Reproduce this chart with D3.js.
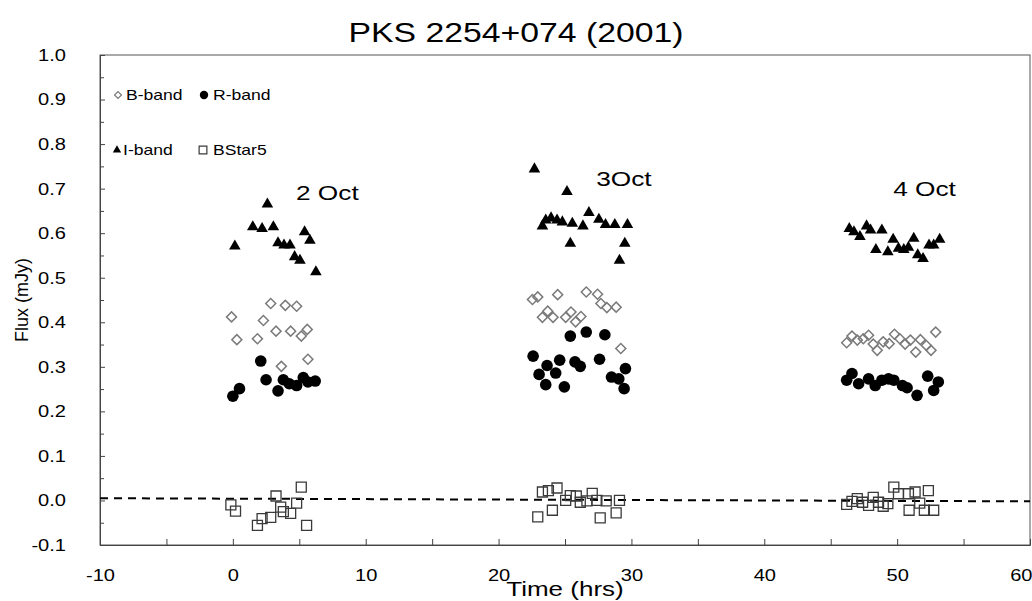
<!DOCTYPE html>
<html>
<head>
<meta charset="utf-8">
<script src="https://cdn.jsdelivr.net/npm/d3@7/dist/d3.min.js"></script>
<style>
  body { margin: 0; background: #fff; }
  text { font-family: "Liberation Sans", Arial, sans-serif; fill: #000; }
</style>
</head>
<body>
<svg id="chart" width="1032" height="601"></svg>
<script>
// B-band (open diamonds)
var bTime = [-0.1,0.3,1.85,2.3,2.85,3.25,3.65,3.95,4.35,4.8,5.15,5.6,5.65,
  22.55,22.95,23.3,23.7,24.1,24.45,25.05,25.45,25.8,26.2,26.6,27.45,27.7,28.15,28.85,29.2,
  46.2,46.6,47.0,47.45,47.85,48.2,48.5,48.95,49.4,49.8,50.2,50.6,51.0,51.4,51.75,52.2,52.55,52.9]
var bFlux = [0.412,0.361,0.363,0.404,0.442,0.380,0.301,0.438,0.380,0.436,0.369,0.384,0.317,
  0.451,0.457,0.411,0.425,0.411,0.462,0.411,0.423,0.401,0.413,0.468,0.463,0.442,0.433,0.434,0.341,
  0.354,0.369,0.360,0.363,0.371,0.351,0.337,0.356,0.352,0.373,0.363,0.351,0.360,0.333,0.361,0.348,0.337,0.378]

// R-band (filled circles)
var rTime = [0.0,0.5,2.1,2.5,3.4,3.8,4.25,4.8,5.3,5.65,6.2,
  22.6,23.05,23.55,23.65,24.3,24.6,24.95,25.4,25.75,26.15,26.6,27.6,28.0,28.5,29.05,29.45,29.55,
  46.2,46.6,47.1,47.85,48.35,48.85,49.35,49.75,50.4,50.75,51.5,52.3,52.75,53.1]
var rFlux = [0.234,0.251,0.313,0.271,0.246,0.271,0.262,0.258,0.276,0.266,0.268,
  0.324,0.283,0.260,0.303,0.286,0.315,0.255,0.369,0.311,0.301,0.378,0.317,0.372,0.277,0.273,0.251,0.296,
  0.270,0.285,0.262,0.273,0.258,0.270,0.273,0.270,0.258,0.253,0.236,0.279,0.247,0.266]

// I-band (filled triangles)
var iTime = [0.15,1.5,2.2,2.6,3.05,3.4,3.85,4.3,4.65,5.05,5.4,5.8,6.25,
  22.7,23.3,23.55,23.95,24.4,24.8,25.15,25.4,25.55,26.35,26.8,27.55,28.05,28.75,29.1,29.5,29.7,
  46.4,46.75,47.2,47.7,48.0,48.4,48.85,49.3,49.7,50.1,50.5,50.85,51.25,51.55,51.95,52.4,52.75,53.2]
var iFlux = [0.571,0.614,0.610,0.665,0.614,0.578,0.573,0.573,0.547,0.539,0.603,0.584,0.513,
  0.744,0.616,0.629,0.634,0.629,0.625,0.693,0.577,0.622,0.616,0.646,0.631,0.619,0.619,0.539,0.577,0.619,
  0.610,0.603,0.592,0.616,0.607,0.563,0.607,0.558,0.586,0.566,0.563,0.568,0.588,0.551,0.543,0.573,0.573,0.586]

// BStar5 (open squares)
var sTime = [-0.15,0.2,1.85,2.2,2.85,3.25,3.6,3.8,4.35,4.8,5.15,5.55,
  22.95,23.3,23.75,24.05,24.4,25.05,25.4,25.85,26.15,26.65,27.05,27.4,27.65,28.1,28.85,29.1,
  46.2,46.6,47.0,47.4,47.85,48.2,48.6,48.95,49.3,49.75,50.1,50.85,50.9,51.35,51.7,52.05,52.35,52.75]
var sFlux = [-0.010,-0.024,-0.056,-0.041,-0.038,0.010,-0.015,-0.025,-0.029,-0.006,0.030,-0.056,
  -0.037,0.019,0.022,-0.022,0.028,0.000,0.011,0.010,-0.004,-0.001,0.016,0.000,-0.039,-0.001,-0.028,0.000,
  -0.009,-0.002,0.004,-0.004,-0.011,0.007,-0.004,-0.013,-0.007,0.030,0.015,0.015,-0.022,0.019,-0.006,-0.022,0.022,-0.022]

// dashed trend line ends
var trendTime = [-10, 60]
var trendFlux = [0.005, -0.002]

var dayLabels = ["2 Oct", "3Oct", "4 Oct"]
var dayTime = [4.75, 27.35, 49.7]
var dayFlux = [0.675, 0.705, 0.683]

var xTicks = d3.range(-10, 61, 5)
var yTicks = d3.range(-0.1, 1.001, 0.1)
var yMinor = d3.range(-0.05, 1.0, 0.1)

var svg = d3.select("#chart")
var x = d3.scaleLinear().domain([-10, 60]).range([100, 1030])
var y = d3.scaleLinear().domain([-0.1, 1.0]).range([545, 55])

// text looks a bit wider than plain Arial in the original
function stretch(sel, k) {
  sel.each(function() {
    var w = this.getComputedTextLength()
    d3.select(this).attr("textLength", w * k).attr("lengthAdjust", "spacingAndGlyphs")
  })
}

// frame
svg.append("rect")
  .attr("x", 100).attr("y", 55)
  .attr("width", 930).attr("height", 490)
  .attr("fill", "none").attr("stroke", "#555").attr("stroke-width", 1)

// y axis
var yAx = svg.append("g").attr("transform", "translate(100,0)")
  .call(d3.axisLeft(y).tickValues(yTicks).tickSize(-5).tickPadding(34)
    .tickFormat(function(d) { return d.toFixed(1) }))
yAx.select(".domain").attr("stroke", "#444")
yAx.selectAll("line").attr("stroke", "#444")
yAx.selectAll("text").style("font-size", "17px").call(stretch, 1.18)
svg.append("g").attr("transform", "translate(100,0)")
  .call(d3.axisLeft(y).tickValues(yMinor).tickSize(-4).tickFormat(""))
  .call(function(g) { g.select(".domain").remove(); g.selectAll("line").attr("stroke", "#444") })

// x axis
var xAx = svg.append("g").attr("transform", "translate(0,545)")
  .call(d3.axisBottom(x).tickValues(xTicks).tickSize(-6).tickPadding(24)
    .tickFormat(function(d) { return d % 10 === 0 ? String(d) : "" }))
xAx.select(".domain").attr("stroke", "#444")
xAx.selectAll("line").attr("stroke", "#444")
xAx.selectAll("text").style("font-size", "17px").call(stretch, 1.18)
// last label kept inside the page
xAx.selectAll(".tick text").filter(function(d) { return d === 60 })
  .attr("text-anchor", "end").attr("x", 2)

// dashed line
svg.append("line")
  .attr("x1", x(trendTime[0])).attr("y1", y(trendFlux[0]))
  .attr("x2", x(trendTime[1])).attr("y2", y(trendFlux[1]))
  .attr("stroke", "#000").attr("stroke-width", 2).attr("stroke-dasharray", "8,6")

function pts(t, f) { return t.map(function(d, i) { return [d, f[i]] }) }

// B-band
svg.append("g").selectAll("path").data(pts(bTime, bFlux)).join("path")
  .attr("d", d3.symbol(d3.symbolSquare, 50))
  .attr("transform", function(d) { return "translate(" + x(d[0]) + "," + y(d[1]) + ") rotate(45)" })
  .attr("fill", "none").attr("stroke", "#7a7a7a").attr("stroke-width", 1.5)

// R-band
svg.append("g").selectAll("circle").data(pts(rTime, rFlux)).join("circle")
  .attr("cx", function(d) { return x(d[0]) }).attr("cy", function(d) { return y(d[1]) })
  .attr("r", 5.8).attr("fill", "#000")

// I-band
svg.append("g").selectAll("path").data(pts(iTime, iFlux)).join("path")
  .attr("d", d3.symbol(d3.symbolTriangle, 58))
  .attr("transform", function(d) { return "translate(" + x(d[0]) + "," + y(d[1]) + ")" })
  .attr("fill", "#000")

// BStar5
svg.append("g").selectAll("path").data(pts(sTime, sFlux)).join("path")
  .attr("d", d3.symbol(d3.symbolSquare, 100))
  .attr("transform", function(d) { return "translate(" + x(d[0]) + "," + y(d[1]) + ")" })
  .attr("fill", "none").attr("stroke", "#3a3a3a").attr("stroke-width", 1.3)

// legend
var leg = svg.append("g").style("font-size", "15px")
leg.append("path").attr("d", d3.symbol(d3.symbolSquare, 24))
  .attr("transform", "translate(118,95) rotate(45)")
  .attr("fill", "none").attr("stroke", "#7a7a7a").attr("stroke-width", 1.2)
leg.append("circle").attr("cx", 204).attr("cy", 95).attr("r", 4.2).attr("fill", "#000")
leg.append("path").attr("d", d3.symbol(d3.symbolTriangle, 30))
  .attr("transform", "translate(117,150)").attr("fill", "#000")
leg.append("path").attr("d", d3.symbol(d3.symbolSquare, 60))
  .attr("transform", "translate(203,150)")
  .attr("fill", "none").attr("stroke", "#3a3a3a").attr("stroke-width", 1.2)
var legText = [["B-band", 126, 100], ["R-band", 213, 100], ["I-band", 123, 155], ["BStar5", 213, 155]]
leg.selectAll("text").data(legText).join("text")
  .attr("x", function(d) { return d[1] }).attr("y", function(d) { return d[2] })
  .text(function(d) { return d[0] })
  .call(stretch, 1.17)

// day labels
svg.append("g").selectAll("text").data(dayLabels).join("text")
  .attr("x", function(d, i) { return x(dayTime[i]) })
  .attr("y", function(d, i) { return y(dayFlux[i]) })
  .style("font-size", "21px")
  .text(function(d) { return d })
  .call(stretch, 1.25)

// title and axis titles
svg.append("text").attr("x", 516).attr("y", 42).attr("text-anchor", "middle")
  .style("font-size", "27px").text("PKS 2254+074 (2001)").call(stretch, 1.25)
svg.append("text").attr("x", 565).attr("y", 596).attr("text-anchor", "middle")
  .style("font-size", "20px").text("Time (hrs)").call(stretch, 1.3)
svg.append("text").attr("transform", "translate(28,300) rotate(-90)").attr("text-anchor", "middle")
  .style("font-size", "18px").text("Flux (mJy)")
</script>
</body>
</html>
